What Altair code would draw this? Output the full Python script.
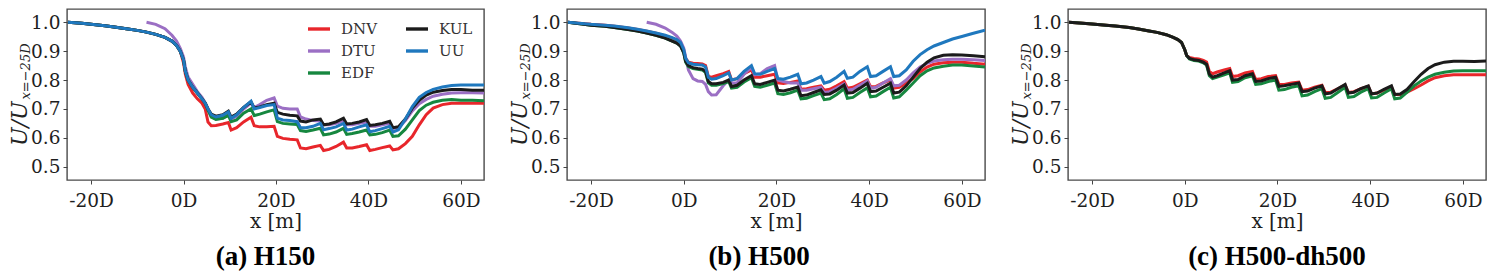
import altair as alt
import pandas as pd
import numpy as np

# x positions along the row (in rotor diameters D)
X = [-25, -22, -20, -17, -15, -12, -10, -8, -6, -4, -2.5, -1.5, -0.7, 0, 0.4, 1, 2, 3, 4, 4.7,
     5.3, 6, 7, 8.5, 9.7, 10.3, 11.5, 13, 14.6, 15.3, 16.5, 18, 19.6, 20.3, 21.5, 23, 24.6, 25.3,
     26.5, 28, 29.6, 30.3, 31.5, 33, 34.6, 35.3, 36.5, 38, 39.6, 40.3, 41.5, 43, 44.6, 45.3, 46.5,
     48, 49.5, 51, 52.5, 54, 56, 58, 60, 62.5, 65]

PRE_A = [1.0, 0.997, 0.993, 0.988, 0.984, 0.977, 0.972, 0.966, 0.958, 0.948, 0.935, 0.92, 0.9]
NA = None

# (a) H150
A_UU = PRE_A + [0.87, 0.83, 0.80, 0.775, 0.755, 0.735, 0.72,
    0.70, 0.68, 0.672, 0.678, 0.69, 0.668, 0.68, 0.705, 0.727, 0.70, 0.705, 0.712, 0.715, 0.668,
    0.662, 0.66, 0.656, 0.635, 0.635, 0.64, 0.65, 0.628, 0.632, 0.638, 0.65, 0.627, 0.63, 0.638,
    0.645, 0.621, 0.625, 0.632, 0.64, 0.62, 0.628, 0.665, 0.708, 0.74, 0.757, 0.768, 0.776, 0.781,
    0.783, 0.783, 0.783]
A_KUL = PRE_A + [0.87, 0.83, 0.80, 0.775, 0.755, 0.735, 0.72,
    0.70, 0.682, 0.675, 0.68, 0.692, 0.672, 0.682, 0.705, 0.725, 0.703, 0.707, 0.715, 0.72, 0.688,
    0.682, 0.678, 0.676, 0.658, 0.655, 0.662, 0.665, 0.645, 0.648, 0.655, 0.668, 0.648, 0.65, 0.655,
    0.663, 0.643, 0.645, 0.65, 0.657, 0.635, 0.638, 0.665, 0.703, 0.73, 0.748, 0.758, 0.764, 0.767,
    0.767, 0.765, 0.765]
A_DTU = [NA] * 7 + [1.0, 0.993, 0.978, 0.955, 0.935, 0.91, 0.88, 0.845, 0.81, 0.785, 0.76, 0.74, 0.722,
    0.70, 0.675, 0.665, 0.668, 0.68, 0.665, 0.675, 0.70, 0.72, 0.705, 0.715, 0.73, 0.738, 0.71,
    0.702, 0.70, 0.70, 0.672, 0.665, 0.66, 0.658, 0.645, 0.645, 0.65, 0.66, 0.645, 0.645, 0.65,
    0.655, 0.64, 0.64, 0.645, 0.65, 0.632, 0.635, 0.66, 0.693, 0.718, 0.733, 0.744, 0.751, 0.755,
    0.756, 0.756, 0.755]
A_EDF = PRE_A + [0.87, 0.83, 0.80, 0.775, 0.755, 0.735, 0.72,
    0.695, 0.672, 0.664, 0.668, 0.678, 0.656, 0.662, 0.685, 0.70, 0.677, 0.682, 0.69, 0.697, 0.656,
    0.65, 0.648, 0.646, 0.625, 0.622, 0.627, 0.633, 0.61, 0.613, 0.62, 0.633, 0.612, 0.615, 0.62,
    0.627, 0.61, 0.612, 0.618, 0.627, 0.605, 0.607, 0.63, 0.662, 0.694, 0.713, 0.723, 0.73, 0.733,
    0.73, 0.73, 0.728]
A_DNV = PRE_A + [0.86, 0.82, 0.785, 0.755, 0.735, 0.72, 0.70,
    0.655, 0.642, 0.643, 0.648, 0.653, 0.627, 0.635, 0.655, 0.671, 0.642, 0.638, 0.638, 0.64, 0.605,
    0.598, 0.595, 0.593, 0.565, 0.562, 0.568, 0.574, 0.556, 0.56, 0.57, 0.585, 0.565, 0.565, 0.57,
    0.576, 0.556, 0.56, 0.566, 0.572, 0.558, 0.562, 0.58, 0.605, 0.645, 0.68, 0.703, 0.715, 0.72,
    0.72, 0.72, 0.72]

# (b) H500
B_UU = [1.0, 0.996, 0.993, 0.99, 0.987, 0.981, 0.976, 0.97, 0.963, 0.955, 0.947, 0.94, 0.93,
    0.905, 0.875, 0.86, 0.855, 0.853, 0.852, 0.845,
    0.81, 0.803, 0.805, 0.815, 0.825, 0.80, 0.805, 0.83, 0.85, 0.822, 0.82, 0.83, 0.84, 0.805,
    0.803, 0.81, 0.82, 0.787, 0.79, 0.80, 0.812, 0.789, 0.795, 0.81, 0.83, 0.806, 0.81, 0.83,
    0.846, 0.812, 0.815, 0.83, 0.846, 0.812, 0.815, 0.835, 0.865, 0.888, 0.905, 0.918, 0.93, 0.942,
    0.951, 0.962, 0.973]
B_KUL = [1.0, 0.994, 0.99, 0.986, 0.982, 0.975, 0.97, 0.963, 0.955, 0.945, 0.935, 0.928, 0.918,
    0.895, 0.865, 0.85, 0.843, 0.84, 0.838, 0.83,
    0.795, 0.787, 0.787, 0.792, 0.80, 0.778, 0.782, 0.80, 0.815, 0.787, 0.785, 0.792, 0.80, 0.765,
    0.762, 0.768, 0.776, 0.746, 0.748, 0.757, 0.766, 0.75, 0.752, 0.765, 0.783, 0.755, 0.757, 0.772,
    0.789, 0.76, 0.762, 0.775, 0.789, 0.755, 0.758, 0.78, 0.81, 0.84, 0.862, 0.877, 0.886, 0.888,
    0.887, 0.884, 0.881]
B_EDF = [1.0, 0.994, 0.99, 0.986, 0.982, 0.975, 0.97, 0.963, 0.955, 0.945, 0.935, 0.928, 0.918,
    0.893, 0.862, 0.847, 0.84, 0.837, 0.835, 0.826,
    0.79, 0.782, 0.782, 0.788, 0.795, 0.772, 0.775, 0.793, 0.808, 0.778, 0.775, 0.782, 0.79, 0.753,
    0.75, 0.756, 0.765, 0.735, 0.737, 0.746, 0.755, 0.732, 0.735, 0.75, 0.77, 0.737, 0.74, 0.757,
    0.773, 0.742, 0.745, 0.76, 0.775, 0.738, 0.742, 0.765, 0.79, 0.815, 0.832, 0.842, 0.848, 0.852,
    0.852, 0.849, 0.845]
B_DNV = [1.0, 0.996, 0.993, 0.99, 0.986, 0.98, 0.975, 0.969, 0.962, 0.953, 0.945, 0.938, 0.928,
    0.90, 0.875, 0.862, 0.858, 0.857, 0.856, 0.85,
    0.812, 0.81, 0.815, 0.822, 0.83, 0.80, 0.805, 0.822, 0.835, 0.81, 0.81, 0.815, 0.82, 0.79,
    0.788, 0.792, 0.797, 0.768, 0.77, 0.775, 0.78, 0.765, 0.768, 0.78, 0.795, 0.772, 0.775, 0.787,
    0.80, 0.777, 0.778, 0.79, 0.80, 0.772, 0.775, 0.79, 0.805, 0.828, 0.845, 0.855, 0.86, 0.862,
    0.862, 0.858, 0.855]
B_DTU = [NA] * 7 + [1.0, 0.993, 0.98, 0.965, 0.952, 0.935, 0.91, 0.88, 0.835, 0.805, 0.797, 0.795, 0.785,
    0.76, 0.748, 0.749, 0.78, 0.80, 0.79, 0.79, 0.82, 0.845, 0.818, 0.822, 0.84, 0.85, 0.80,
    0.795, 0.79, 0.79, 0.765, 0.765, 0.77, 0.775, 0.757, 0.76, 0.772, 0.787, 0.765, 0.768, 0.782,
    0.797, 0.772, 0.775, 0.79, 0.805, 0.78, 0.782, 0.80, 0.825, 0.845, 0.858, 0.866, 0.87, 0.872,
    0.872, 0.87, 0.868]

# (c) H500-dh500
PRE_C = [1.0, 0.997, 0.994, 0.99, 0.987, 0.982, 0.977, 0.971, 0.965, 0.957, 0.948, 0.94, 0.93, 0.905, 0.885]
C_KUL = PRE_C + [0.875, 0.87, 0.868, 0.862, 0.855,
    0.82, 0.81, 0.815, 0.825, 0.832, 0.80, 0.802, 0.815, 0.822, 0.795, 0.797, 0.805, 0.81, 0.778,
    0.78, 0.785, 0.79, 0.76, 0.762, 0.772, 0.78, 0.752, 0.755, 0.77, 0.785, 0.755, 0.758, 0.77,
    0.78, 0.752, 0.755, 0.768, 0.78, 0.75, 0.752, 0.768, 0.795, 0.82, 0.84, 0.853, 0.862, 0.865,
    0.865, 0.864, 0.866]
C_DNV = PRE_C + [0.878, 0.875, 0.873, 0.868, 0.862,
    0.83, 0.822, 0.828, 0.835, 0.84, 0.812, 0.815, 0.825, 0.83, 0.802, 0.805, 0.812, 0.815, 0.785,
    0.785, 0.79, 0.793, 0.765, 0.767, 0.775, 0.782, 0.757, 0.758, 0.77, 0.783, 0.757, 0.76, 0.77,
    0.778, 0.752, 0.755, 0.765, 0.775, 0.75, 0.75, 0.758, 0.77, 0.783, 0.797, 0.808, 0.815, 0.818,
    0.818, 0.818, 0.818]
C_EDF = PRE_C + [0.873, 0.868, 0.866, 0.86, 0.852,
    0.815, 0.805, 0.81, 0.818, 0.825, 0.792, 0.795, 0.808, 0.815, 0.785, 0.787, 0.795, 0.80, 0.765,
    0.767, 0.775, 0.78, 0.745, 0.748, 0.76, 0.77, 0.737, 0.74, 0.757, 0.775, 0.74, 0.743, 0.758,
    0.77, 0.738, 0.74, 0.755, 0.77, 0.735, 0.738, 0.758, 0.78, 0.797, 0.81, 0.82, 0.827, 0.831,
    0.832, 0.832, 0.832]

MODELS = ["DNV", "DTU", "EDF", "KUL", "UU"]
COLORS = {"DNV": "#e8262b", "DTU": "#9b6fc4", "EDF": "#16873f", "KUL": "#1b1b1b", "UU": "#1f78be"}

X_TICKS = [-20, 0, 20, 40, 60]
Y_TICKS = [0.5, 0.6, 0.7, 0.8, 0.9, 1.0]

H = 171
FONT = "DejaVu Serif"


def panel(series, caption, dx, width, with_legend):
    xs = alt.Scale(domain=[-25.2, 65], nice=False, zero=False)
    ys = alt.Scale(domain=[0.454, 1.046], nice=False, zero=False)
    cs = alt.Scale(domain=MODELS, range=[COLORS[m] for m in MODELS])
    if with_legend:
        leg = alt.Legend(orient="none", legendX=width - 178, legendY=7, columns=2,
                         symbolType="stroke", symbolStrokeWidth=3.4, symbolSize=484,
                         labelFont=FONT, labelFontSize=15, labelColor="#333",
                         labelOffset=9, columnPadding=22, rowPadding=1, padding=0,
                         title=None, symbolOffset=0)
    else:
        leg = None
    xaxis = alt.Axis(values=X_TICKS, labelExpr="datum.value + 'D'", title="x [m]",
                     labelFont=FONT, labelFontSize=18.5, labelColor="#1e1e1e",
                     titleFont=FONT, titleFontSize=20, titleFontWeight="normal",
                     titleColor="#1e1e1e", titlePadding=2, tickSize=4, tickColor="#444",
                     domain=False, grid=False, labelPadding=7)
    yaxis = alt.Axis(values=Y_TICKS, format=".1f", title=None,
                     labelFont=FONT, labelFontSize=18.5, labelColor="#1e1e1e",
                     tickSize=4, tickColor="#444", domain=False, grid=False, labelPadding=3)
    layers = []
    for m in MODELS:
        if m not in series:
            continue
        df = pd.DataFrame({"x": X, "u": series[m], "model": m}).dropna()
        layers.append(
            alt.Chart(df).mark_line(strokeWidth=3, clip=True).encode(
                x=alt.X("x:Q", scale=xs, axis=xaxis),
                y=alt.Y("u:Q", scale=ys, axis=yaxis),
                color=alt.Color("model:N", scale=cs, legend=leg),
            )
        )
    t1 = alt.Chart(pd.DataFrame({"t": ["U/U"]})).mark_text(
        angle=270, align="right", baseline="middle", font=FONT, fontStyle="italic",
        fontSize=22, color="#222").encode(x=alt.value(-47), y=alt.value(H / 2 + 7), text="t:N")
    t2 = alt.Chart(pd.DataFrame({"t": ["x=\u221225D"]})).mark_text(
        angle=270, align="left", baseline="middle", font=FONT, fontStyle="italic",
        fontSize=13, color="#222").encode(x=alt.value(-41), y=alt.value(H / 2 + 5), text="t:N")
    return alt.layer(*layers, t1, t2).properties(
        width=width, height=H,
        title=alt.TitleParams(caption, orient="bottom", anchor="middle", font="Liberation Serif",
                              fontSize=27, fontWeight="bold", color="black", offset=12, dx=dx),
    )


pa = panel({"DNV": A_DNV, "DTU": A_DTU, "EDF": A_EDF, "KUL": A_KUL, "UU": A_UU},
           "(a) H150", -10, 417, True)
pb = panel({"DNV": B_DNV, "DTU": B_DTU, "EDF": B_EDF, "KUL": B_KUL, "UU": B_UU},
           "(b) H500", -17, 418, False)
pc = panel({"DNV": C_DNV, "EDF": C_EDF, "KUL": C_KUL},
           "(c) H500-dh500", 0, 418, False)

chart = alt.hconcat(pa, pb, pc, spacing=23).resolve_scale(color="independent").properties(
    padding=0, background="white"
).configure_view(stroke="#4a4a4a", strokeWidth=1.4)

chart.save("out.html", embed_options={"renderer": "svg", "actions": False})
